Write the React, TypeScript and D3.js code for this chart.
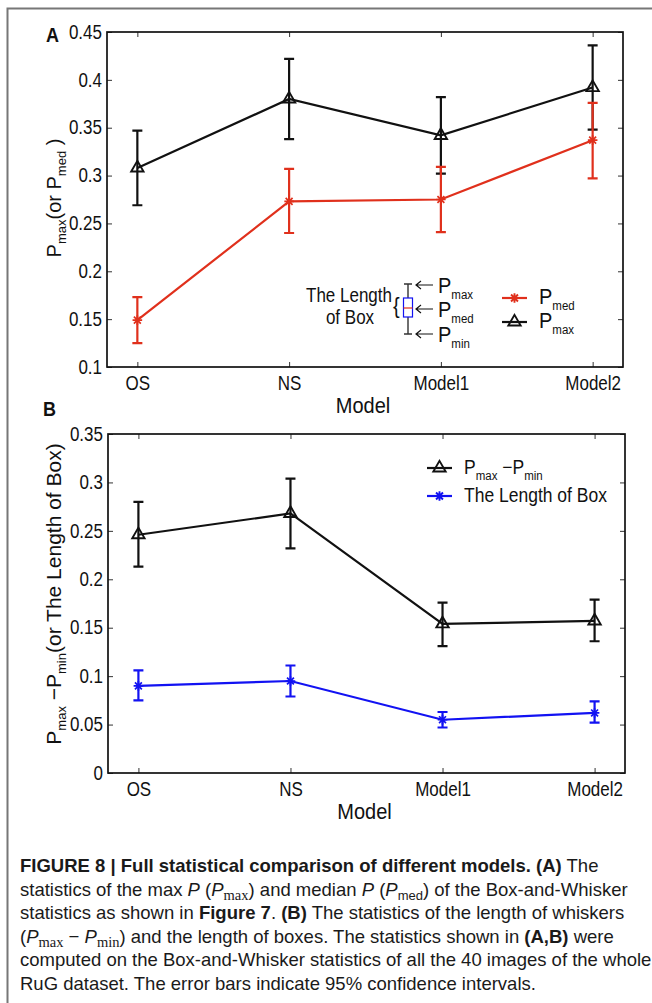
import React, { useRef, useEffect } from "react";
import * as d3 from "d3";

// categories
const models = ["OS", "NS", "Model1", "Model2"];

// panel A: P max (black triangles) with 95% CI
const pMax = [0.308, 0.38, 0.342, 0.392];
const pMaxLow = [0.269, 0.338, 0.302, 0.348];
const pMaxHigh = [0.347, 0.422, 0.382, 0.436];

// panel A: P med (red stars)
const pMed = [0.149, 0.273, 0.275, 0.337];
const pMedLow = [0.125, 0.24, 0.241, 0.297];
const pMedHigh = [0.173, 0.307, 0.309, 0.376];

// panel B: P max - P min (black triangles)
const whisker = [0.246, 0.268, 0.154, 0.157];
const whiskerLow = [0.213, 0.232, 0.131, 0.136];
const whiskerHigh = [0.28, 0.304, 0.176, 0.179];

// panel B: length of box (blue stars)
const boxLen = [0.09, 0.095, 0.055, 0.062];
const boxLenLow = [0.075, 0.079, 0.047, 0.052];
const boxLenHigh = [0.106, 0.111, 0.063, 0.074];

// tick labels
const ticksA = [0.1, 0.15, 0.2, 0.25, 0.3, 0.35, 0.4, 0.45];
const tickLabelsA = ["0.1", "0.15", "0.2", "0.25", "0.3", "0.35", "0.4", "0.45"];
const ticksB = [0, 0.05, 0.1, 0.15, 0.2, 0.25, 0.3, 0.35];
const tickLabelsB = ["0", "0.05", "0.1", "0.15", "0.2", "0.25", "0.3", "0.35"];

const RED = "#e0301c";
const BLUE = "#1212f2";
const INK = "#111";
const FONT = "'Liberation Sans', Arial, Helvetica, sans-serif";
const SERIF = "'Liberation Serif', 'DejaVu Serif', serif";
const SY = 1.14; // figure text looks a bit taller than wide

type Part = { t: string; sub?: boolean; it?: boolean; b?: boolean; serif?: boolean };

// text with subscripts / italic / bold runs
function rich(text: any, parts: Part[], subSize: number, subDy: number) {
  let cur = 0;
  parts.forEach((p) => {
    const want = p.sub ? subDy : 0;
    const ts = text.append("tspan").text(p.t);
    if (want !== cur) ts.attr("dy", want - cur);
    cur = want;
    if (p.sub) ts.style("font-size", (p.serif ? subSize + 1.5 : subSize) + "px");
    if (p.it) ts.style("font-style", "italic");
    if (p.b) ts.style("font-weight", "bold");
    if (p.serif) ts.style("font-family", SERIF);
  });
}

// horizontal chart text, slightly stretched vertically
function ttext(parent: any, x: number, y: number, size: number, anchor = "start") {
  return parent.append("text")
    .attr("transform", `translate(${x},${y}) scale(1,${SY})`)
    .attr("text-anchor", anchor)
    .style("font-family", FONT).style("font-size", size + "px").attr("fill", INK);
}

const starPath = (r: number) => {
  const a = r * 0.72;
  return `M0,${-r}V${r}M${-r},0H${r}M${-a},${-a}L${a},${a}M${-a},${a}L${a},${-a}`;
};
const triPath = d3.symbol().type(d3.symbolTriangle).size(66)() as string;

function drawPanel(svg: any, cfg: any) {
  const { x0, x1, y0, y1, domain, ticks, labels, series, label, labelX, labelY, yTitle, titleY, titleSize } = cfg;
  const x = d3.scalePoint<string>().domain(models).range([x0, x1]).padding(0.2);
  const y = d3.scaleLinear().domain(domain).range([y1, y0]);

  const g = svg.append("g");

  // axes, inward ticks on all four sides
  const styleAxis = (ax: any) => {
    ax.select(".domain").remove();
    ax.selectAll("line").attr("stroke", "#333");
    ax.selectAll("text").style("font-family", FONT).style("font-size", "17px").attr("fill", INK)
      .attr("transform", `scale(1,${SY})`);
  };
  g.append("g").attr("transform", `translate(${x0},0)`)
    .call(d3.axisLeft(y).tickValues(ticks).tickSize(-5).tickPadding(5).tickFormat((_d: any, i: number) => labels[i]))
    .call(styleAxis);
  g.append("g").attr("transform", `translate(${x1},0)`)
    .call(d3.axisRight(y).tickValues(ticks).tickSize(-5).tickFormat(() => ""))
    .call(styleAxis);
  g.append("g").attr("transform", `translate(0,${y1})`)
    .call(d3.axisBottom(x).tickSize(-5).tickPadding(8))
    .call(styleAxis);
  g.append("g").attr("transform", `translate(0,${y0})`)
    .call(d3.axisTop(x).tickSize(-5).tickFormat(() => ""))
    .call(styleAxis);

  g.append("rect").attr("x", x0).attr("y", y0).attr("width", x1 - x0).attr("height", y1 - y0)
    .attr("fill", "none").attr("stroke", INK).attr("stroke-width", 1.7);

  // series: error bars, line, markers
  series.forEach((s: any) => {
    const sg = g.append("g").attr("stroke", s.color).attr("fill", "none").attr("stroke-width", 2.2);
    models.forEach((m, i) => {
      const cx = x(m) as number;
      sg.append("path")
        .attr("d", `M${cx},${y(s.low[i])}V${y(s.high[i])}M${cx - 5},${y(s.low[i])}H${cx + 5}M${cx - 5},${y(s.high[i])}H${cx + 5}`);
    });
    const line = d3.line<number>().x((_d, i) => x(models[i]) as number).y((d) => y(d));
    sg.append("path").attr("d", line(s.values));
    s.values.forEach((v: number, i: number) => {
      sg.append("path")
        .attr("transform", `translate(${x(models[i])},${y(v)})`)
        .attr("d", s.marker === "tri" ? triPath : starPath(4.8))
        .attr("stroke-width", s.marker === "tri" ? 1.9 : 1.7);
    });
  });

  // axis titles
  ttext(svg, (x0 + x1) / 2 - 2, y1 + 46, 20, "middle").text("Model");
  const yt = svg.append("text").attr("transform", `translate(61,${titleY}) rotate(-90)`)
    .attr("text-anchor", "middle").style("font-family", FONT).style("font-size", titleSize + "px").attr("fill", INK);
  rich(yt, yTitle, 13, 5);

  // panel letter
  ttext(svg, labelX, labelY, 18).style("font-weight", "bold").text(label);
}

function legendRow(svg: any, lx: number, ly: number, color: string, marker: string, parts: Part[], size: number) {
  svg.append("path").attr("d", `M${lx},${ly}H${lx + 25}`).attr("stroke", color).attr("stroke-width", 2.2);
  svg.append("path").attr("transform", `translate(${lx + 12.5},${ly})`)
    .attr("d", marker === "tri" ? triPath : starPath(4.8))
    .attr("stroke", color).attr("fill", "none").attr("stroke-width", 1.9);
  const t = ttext(svg, lx + 37, ly + 6, size);
  rich(t, parts, 11.5, 5);
}

const captionLines: Part[][] = [
  [{ t: "FIGURE 8 | Full statistical comparison of different models. (A)", b: true }, { t: " The" }],
  [
    { t: "statistics of the max " }, { t: "P", it: true }, { t: " (" }, { t: "P", it: true },
    { t: "max", sub: true, serif: true }, { t: ") and median " }, { t: "P", it: true }, { t: " (" },
    { t: "P", it: true }, { t: "med", sub: true }, { t: ") of the Box-and-Whisker" },
  ],
  [
    { t: "statistics as shown in " }, { t: "Figure 7", b: true }, { t: ". " }, { t: "(B)", b: true },
    { t: " The statistics of the length of whiskers" },
  ],
  [
    { t: "(" }, { t: "P", it: true }, { t: "max", sub: true, serif: true }, { t: " \u2212 " }, { t: "P", it: true },
    { t: "min", sub: true, serif: true }, { t: ") and the length of boxes. The statistics shown in " },
    { t: "(A,B)", b: true }, { t: " were" },
  ],
  [{ t: "computed on the Box-and-Whisker statistics of all the 40 images of the whole" }],
  [{ t: "RuG dataset. The error bars indicate 95% confidence intervals." }],
];

const App = () => {
  const svgRef = useRef<SVGSVGElement>(null);

  useEffect(() => {
    const svg = d3.select(svgRef.current);
    svg.selectAll("*").remove();

    // outer frame (left and top edges visible)
    svg.append("path").attr("d", "M7.5,1010V8.5H660").attr("fill", "none").attr("stroke", "#777").attr("stroke-width", 2);

    drawPanel(svg, {
      x0: 107, x1: 623, y0: 32, y1: 367, domain: [0.1, 0.45], ticks: ticksA, labels: tickLabelsA,
      label: "A", labelX: 46, labelY: 42, titleY: 198, titleSize: 20,
      yTitle: [{ t: "P" }, { t: "max", sub: true }, { t: "(or P" }, { t: "med", sub: true }, { t: " )" }],
      series: [
        { values: pMax, low: pMaxLow, high: pMaxHigh, color: INK, marker: "tri" },
        { values: pMed, low: pMedLow, high: pMedHigh, color: RED, marker: "star" },
      ],
    });
    drawPanel(svg, {
      x0: 108, x1: 625, y0: 434, y1: 773, domain: [0, 0.35], ticks: ticksB, labels: tickLabelsB,
      label: "B", labelX: 43, labelY: 416, titleY: 594, titleSize: 21,
      yTitle: [{ t: "P" }, { t: "max", sub: true }, { t: " \u2212P" }, { t: "min", sub: true }, { t: "(or The Length of Box)" }],
      series: [
        { values: whisker, low: whiskerLow, high: whiskerHigh, color: INK, marker: "tri" },
        { values: boxLen, low: boxLenLow, high: boxLenHigh, color: BLUE, marker: "star" },
      ],
    });

    // legend A
    legendRow(svg, 502, 298, RED, "star", [{ t: "P" }, { t: "med", sub: true }], 20);
    legendRow(svg, 502, 322, INK, "tri", [{ t: "P" }, { t: "max", sub: true }], 20);

    // box-and-whisker key in panel A
    const key = svg.append("g");
    key.append("path").attr("d", "M408,284V334M404,284H412M404,334H412").attr("stroke", "#333").attr("stroke-width", 1.4).attr("fill", "none");
    key.append("rect").attr("x", 403.5).attr("y", 298).attr("width", 9).attr("height", 19).attr("fill", "#fff").attr("stroke", BLUE).attr("stroke-width", 1.2);
    key.append("path").attr("d", "M403.5,308H412.5").attr("stroke", RED).attr("stroke-width", 1.2);
    [285, 309, 334].forEach((ay) => {
      key.append("path").attr("d", `M433,${ay}H416M421,${ay - 4}L416,${ay}L421,${ay + 4}`).attr("stroke", INK).attr("stroke-width", 1.2).attr("fill", "none");
    });
    [["max", 293], ["med", 317], ["min", 342]].forEach(([s, by]) => {
      const t = ttext(key, 438, by as number, 20);
      rich(t, [{ t: "P" }, { t: s as string, sub: true }], 11.5, 5);
    });
    ttext(key, 392, 302, 17, "end").text("The Length");
    ttext(key, 350, 324, 17, "middle").text("of Box");
    ttext(key, 393, 313, 20).text("{");

    // legend B
    legendRow(svg, 427, 468, INK, "tri", [{ t: "P" }, { t: "max", sub: true }, { t: " \u2212P" }, { t: "min", sub: true }], 17.5);
    legendRow(svg, 427, 496, BLUE, "star", [{ t: "The Length of Box" }], 17.5);

    // caption
    captionLines.forEach((parts, i) => {
      const t = svg.append("text").attr("x", 20).attr("y", 872 + i * 23.6)
        .style("font-family", FONT).style("font-size", "18.5px").attr("fill", "#1a1a1a");
      rich(t, parts, 13, 4);
    });
  }, []);

  return (
    <div style={{ width: 652, height: 1003 }}>
      <svg ref={svgRef} width={652} height={1003} style={{ position: "absolute", left: 0, top: 0, background: "#fff" }}></svg>
    </div>
  );
};

export default App;
